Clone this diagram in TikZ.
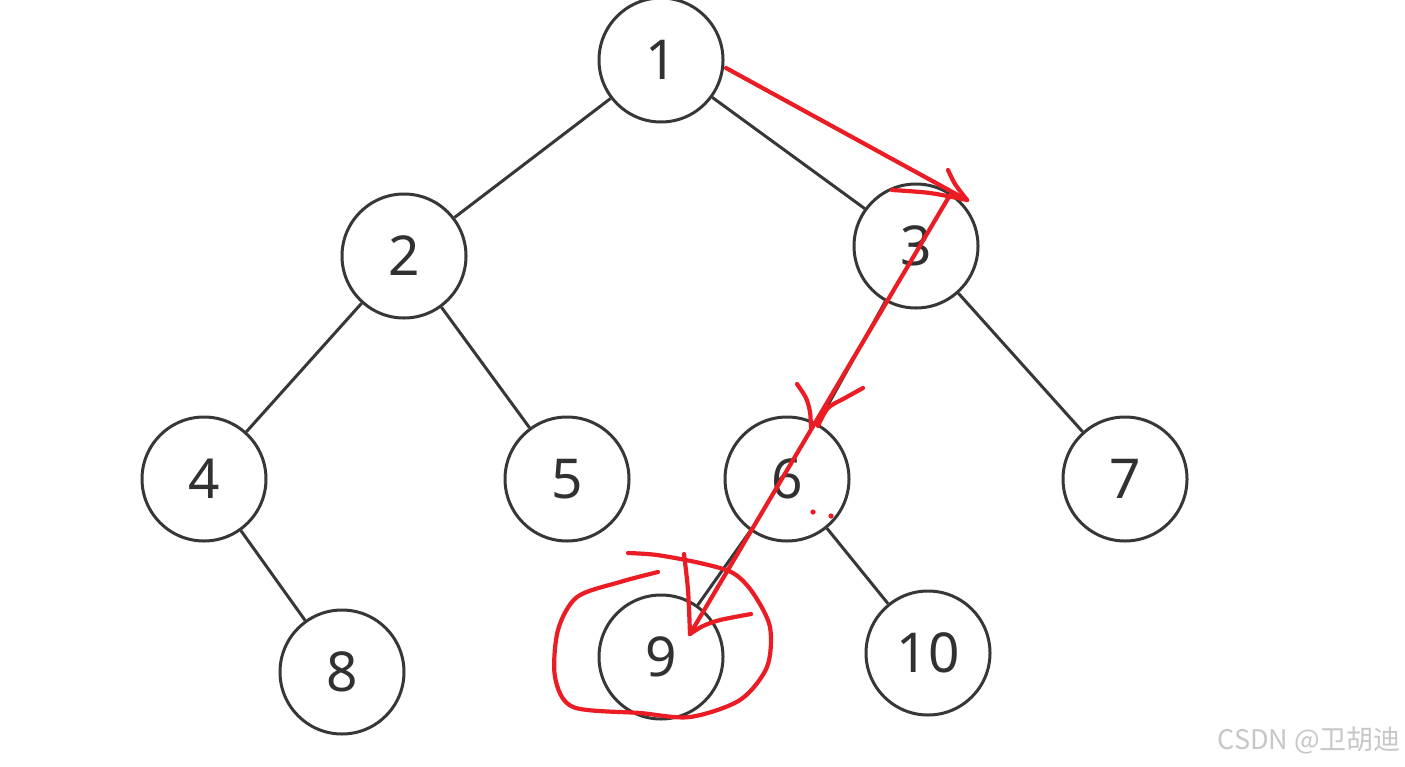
\documentclass[tikz,border=0pt]{standalone}
\usepackage{fontspec}
\setmainfont{Noto Sans}
\newfontfamily\cjkfont{Noto Sans CJK SC}
\definecolor{pen}{RGB}{236,28,36}
\definecolor{edge}{RGB}{55,55,55}
\begin{document}
\begin{tikzpicture}[x=1pt,y=-1pt,
  tnode/.style={circle,draw=edge,line width=3pt,fill=white,minimum size=124pt,inner sep=0pt,font=\fontsize{55}{60}\selectfont,text=edge!90!black},
  tedge/.style={draw=edge,line width=3pt},
  redpen/.style={draw=pen,line width=4.2pt,line cap=round,line join=round}]
\useasboundingbox (0,0) rectangle (1405,766);
\fill[white] (0,0) rectangle (1405,766);
\node[tnode] (n1) at (661,60) {1};
\node[tnode] (n2) at (404,256) {2};
\node[tnode] (n3) at (916,246) {3};
\node[tnode] (n4) at (204,479) {4};
\node[tnode] (n5) at (567,479) {5};
\node[tnode] (n6) at (787,479) {6};
\node[tnode] (n7) at (1125,479) {7};
\node[tnode] (n8) at (342,672) {8};
\node[tnode] (n9) at (661,657) {9};
\node[tnode] (n10) at (928,653) {10};
\foreach \a/\b in {n1/n2,n1/n3,n2/n4,n2/n5,n3/n6,n3/n7,n4/n8,n6/n9,n6/n10}
  \draw[tedge] (\a) -- (\b);
% red annotations
\coordinate (r0) at (726,68);
\coordinate (rt1) at (967,200);
\coordinate (rs) at (950,195);
\coordinate (rt3) at (690,634);
\draw[redpen] (r0) -- (rt1);
\draw[redpen] plot[smooth] coordinates {(948,170) (955,184) (967,200)};
\draw[redpen] plot[smooth] coordinates {(892,190) (930,193) (967,200)};
\draw[redpen] (rs) -- (rt3);
\draw[redpen] plot[smooth] coordinates {(797,384) (806,398) (810,412) (811,428)};
\draw[redpen] plot[smooth] coordinates {(863,388) (845,398) (828,408) (818,426)};
\draw[redpen] plot[smooth] coordinates {(684,554) (688,590) (690,634)};
\draw[redpen] plot[smooth] coordinates {(751,614) (720,620) (703,626) (690,634)};
\draw[redpen] plot[smooth] coordinates {(658,572) (620,582) (577,597) (558,630) (555,677) (573,707) (640,713) (690,717) (740,700) (767,667) (770,627) (753,593) (733,573) (700,563) (657,555) (628,553)};
\fill[pen] (813,512) circle (2.6pt);
\fill[pen] (831,516) circle (2.6pt);
\node[anchor=east,text=black!22,font=\cjkfont\fontsize{27}{30}\selectfont,inner sep=0pt] (wm) at (1401,740) {CSDN @卫胡迪};
\end{tikzpicture}
\end{document}
